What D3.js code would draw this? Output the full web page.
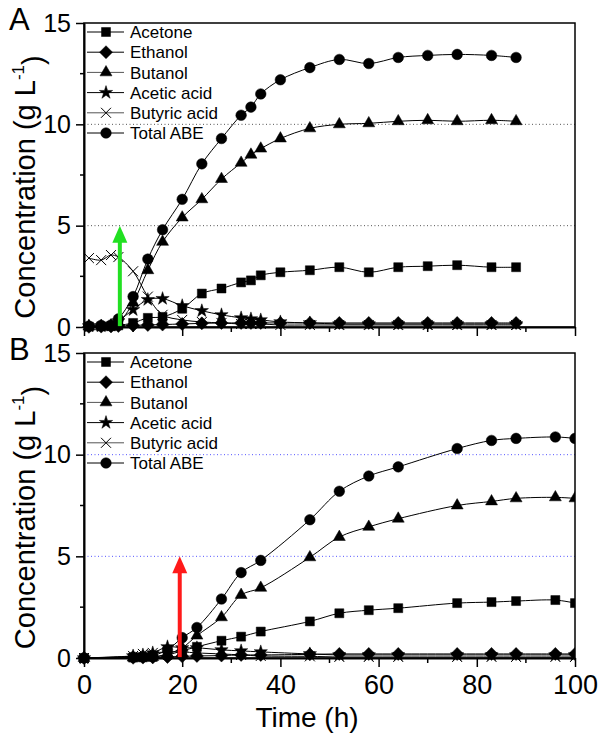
<!DOCTYPE html>
<meta charset="utf-8">
<style>
body { margin: 0; background: #fff; }
svg { font-family: "Liberation Sans", Arial, sans-serif; }
.line { fill: none; stroke: #000; stroke-width: 1px; }
</style>
<body>
<script src="https://d3js.org/d3.v7.min.js"></script>
<script>

// ---- data ----
var seriesNames = ["Acetone", "Ethanol", "Butanol", "Acetic acid", "Butyric acid", "Total ABE"];
var seriesSymbols = ["square", "diamond", "triangle", "star", "x", "circle"];

// panel A
var timeA = [1, 3.5, 5.5, 7, 10, 13, 16, 20, 24, 28, 32, 34, 36, 40, 46, 52, 58, 64, 70, 76, 83, 88];
var acetoneA = [0.02, 0.03, 0.04, 0.08, 0.2, 0.45, 0.5, 0.9, 1.65, 1.9, 2.2, 2.3, 2.55, 2.7, 2.8, 2.95, 2.7, 2.95, 3.0, 3.05, 2.95, 2.95];
var ethanolA = [0.01, 0.02, 0.03, 0.05, 0.08, 0.1, 0.12, 0.15, 0.18, 0.2, 0.2, 0.2, 0.2, 0.2, 0.2, 0.2, 0.2, 0.2, 0.2, 0.2, 0.2, 0.2];
var butanolA = [0.02, 0.03, 0.05, 0.2, 1.2, 2.8, 4.2, 5.4, 6.3, 7.3, 8.1, 8.5, 8.8, 9.3, 9.8, 10.0, 10.05, 10.15, 10.2, 10.15, 10.2, 10.15];
var aceticA = [0.05, 0.05, 0.08, 0.3, 0.85, 1.35, 1.4, 1.05, 0.8, 0.6, 0.45, 0.4, 0.35, 0.25, 0.2, 0.15, 0.15, 0.15, 0.15, 0.15, 0.15, 0.15];
var butyricA = [3.4, 3.3, 3.55, 3.45, 2.75, 1.5, 0.6, 0.35, 0.25, 0.2, 0.15, 0.15, 0.15, 0.1, 0.1, 0.1, 0.1, 0.1, 0.1, 0.1, 0.1, 0.1];
var totalA = [0.05, 0.08, 0.1, 0.4, 1.5, 3.35, 4.8, 6.3, 8.05, 9.3, 10.45, 10.85, 11.5, 12.2, 12.8, 13.2, 13.0, 13.3, 13.4, 13.45, 13.4, 13.3];

// panel B
var timeB = [0, 10, 12, 14, 17, 20, 23, 28, 32, 36, 46, 52, 58, 64, 76, 83, 88, 96, 100];
var acetoneB = [0, 0.02, 0.03, 0.05, 0.15, 0.35, 0.55, 0.85, 1.05, 1.3, 1.8, 2.2, 2.35, 2.45, 2.7, 2.75, 2.8, 2.85, 2.7];
var ethanolB = [0, 0.01, 0.02, 0.03, 0.05, 0.08, 0.1, 0.12, 0.15, 0.15, 0.18, 0.2, 0.2, 0.2, 0.2, 0.2, 0.2, 0.2, 0.2];
var butanolB = [0, 0.02, 0.03, 0.05, 0.2, 0.5, 1.1, 2.0, 3.1, 3.45, 4.95, 5.95, 6.45, 6.85, 7.5, 7.7, 7.85, 7.9, 7.85];
var aceticB = [0, 0.1, 0.15, 0.25, 0.55, 0.5, 0.5, 0.4, 0.35, 0.3, 0.2, 0.15, 0.15, 0.15, 0.15, 0.15, 0.15, 0.15, 0.15];
var butyricB = [0, 0.1, 0.2, 0.25, 0.3, 0.3, 0.25, 0.2, 0.15, 0.1, 0.08, 0.05, 0.05, 0.05, 0.05, 0.05, 0.05, 0.05, 0.05];
var totalB = [0, 0.05, 0.07, 0.12, 0.4, 1.0, 1.5, 2.9, 4.2, 4.8, 6.8, 8.2, 8.95, 9.4, 10.3, 10.7, 10.8, 10.87, 10.8];

// feeding arrows (time, from, to)
var arrowA = [7.3, 0, 5];
var arrowB = [19.5, 0, 5];

var xMajor = [0, 20, 40, 60, 80, 100];
var xMinor = [10, 30, 50, 70, 90];
var yMajor = [0, 5, 10, 15];
var yMinor = [2.5, 7.5, 12.5];
var gridValues = [5, 10];

// ---- layout ----
var width = 600, height = 736;

var svg = d3.select("body").append("svg")
    .attr("width", width)
    .attr("height", height);

var x = d3.scaleLinear().domain([0, 100]).range([84, 575]);

var panels = [
  {label: "A", top: 23, bottom: 327, time: timeA,
   values: [acetoneA, ethanolA, butanolA, aceticA, butyricA, totalA],
   grid: "#555", arrow: arrowA, arrowColor: "#22e022", showX: false},
  {label: "B", top: 353, bottom: 658, time: timeB,
   values: [acetoneB, ethanolB, butanolB, aceticB, butyricB, totalB],
   grid: "#5555ff", arrow: arrowB, arrowColor: "#ff1a1a", showX: true}
];

function markerPath(type) {
  if (type == "square") return d3.symbol(d3.symbolSquare, 81)();
  if (type == "circle") return d3.symbol(d3.symbolCircle, 88)();
  if (type == "triangle") return d3.symbol(d3.symbolTriangle, 62)();
  if (type == "star") return d3.symbol(d3.symbolStar, 55)();
  if (type == "diamond") return "M0,-6.5L6.5,0L0,6.5L-6.5,0Z";
  return "M-5,-5L5,5M-5,5L5,-5";
}

function drawMarker(sel, type) {
  sel.attr("d", markerPath(type))
    .attr("fill", type == "x" ? "none" : "#000")
    .attr("stroke", "#000")
    .attr("stroke-width", type == "x" ? 1 : 0.5);
}

svg.append("defs").append("clipPath").attr("id", "clip")
  .append("rect").attr("x", 0).attr("y", 0).attr("width", x(100)).attr("height", height);

panels.forEach(function(p) {
  var y = d3.scaleLinear().domain([0, 15]).range([p.bottom, p.top]);
  var g = svg.append("g");

  // dotted reference lines
  g.selectAll(".grid").data(gridValues).enter().append("line")
      .attr("x1", x(0)).attr("x2", x(100))
      .attr("y1", function(d) { return y(d); })
      .attr("y2", function(d) { return y(d); })
      .attr("stroke", p.grid)
      .attr("stroke-width", 1)
      .attr("stroke-dasharray", "1,2.5");

  var plot = g.append("g").attr("clip-path", "url(#clip)");

  var line = d3.line()
      .x(function(d) { return x(d[0]); })
      .y(function(d) { return y(d[1]); })
      .curve(d3.curveCatmullRom.alpha(0.5));

  p.values.forEach(function(vals, i) {
    var pts = p.time.map(function(t, j) { return [t, vals[j]]; });
    plot.append("path")
        .datum(pts)
        .attr("class", "line")
        .attr("stroke", i == 4 ? "#444" : "#000")
        .attr("d", line);
  });
  p.values.forEach(function(vals, i) {
    var pts = p.time.map(function(t, j) { return [t, vals[j]]; });
    plot.selectAll(".m" + i).data(pts).enter().append("path")
        .attr("transform", function(d) { return "translate(" + x(d[0]) + "," + y(d[1]) + ")"; })
        .call(drawMarker, seriesSymbols[i]);
  });

  // arrow
  var ax = x(p.arrow[0]), ay0 = y(p.arrow[1]), ay1 = y(p.arrow[2]);
  g.append("line")
      .attr("x1", ax).attr("x2", ax)
      .attr("y1", ay0).attr("y2", ay1 + 14)
      .attr("stroke", p.arrowColor)
      .attr("stroke-width", 4);
  g.append("path")
      .attr("d", "M" + ax + "," + ay1 + "L" + (ax + 7.5) + "," + (ay1 + 17) + "L" + (ax - 7.5) + "," + (ay1 + 17) + "Z")
      .attr("fill", p.arrowColor);

  // frame
  g.append("rect")
      .attr("x", x(0)).attr("y", p.top)
      .attr("width", x(100) - x(0)).attr("height", p.bottom - p.top)
      .attr("fill", "none").attr("stroke", "#000").attr("stroke-width", 1.5);

  // axes
  var xAxis = g.append("g")
      .attr("transform", "translate(0," + p.bottom + ")")
      .call(d3.axisBottom(x).tickValues(xMajor).tickSize(9).tickSizeOuter(0)
        .tickFormat(p.showX ? d3.format("d") : ""));
  xAxis.selectAll(".minor").data(xMinor).enter().append("line")
      .attr("x1", function(d) { return x(d); }).attr("x2", function(d) { return x(d); })
      .attr("y1", 0).attr("y2", 5).attr("stroke", "#000").attr("stroke-width", 1.5);

  var yAxis = g.append("g")
      .attr("transform", "translate(" + x(0) + ",0)")
      .call(d3.axisLeft(y).tickValues(yMajor).tickSize(8).tickSizeOuter(0).tickPadding(5));
  yAxis.selectAll(".minor").data(yMinor).enter().append("line")
      .attr("x1", 0).attr("x2", -4)
      .attr("y1", function(d) { return y(d); }).attr("y2", function(d) { return y(d); })
      .attr("stroke", "#000").attr("stroke-width", 1.5);

  [xAxis, yAxis].forEach(function(a) {
    a.select(".domain").attr("stroke-width", 2);
    a.selectAll(".tick line").attr("stroke-width", 1.5);
    a.selectAll("text").attr("fill", "#000").attr("font-family", "Liberation Sans, Arial, sans-serif");
  });
  xAxis.selectAll("text").attr("font-size", 27).attr("dy", "0.9em");
  yAxis.selectAll("text").attr("font-size", 25);

  // legend
  var leg = g.append("g");
  seriesNames.forEach(function(name, i) {
    var ly = p.top + 9 + i * 20.2;
    leg.append("line")
        .attr("x1", 87).attr("x2", 124).attr("y1", ly).attr("y2", ly)
        .attr("stroke", (i == 2 || i == 4) ? "#555" : "#000").attr("stroke-width", 1);
    leg.append("path")
        .attr("transform", "translate(106," + ly + ")")
        .call(drawMarker, seriesSymbols[i]);
    leg.append("text")
        .attr("x", 130).attr("y", ly).attr("dy", "0.36em")
        .attr("font-size", 17)
        .text(name);
  });

  // panel letter
  g.append("text")
      .attr("x", 9).attr("y", p.top + 7)
      .attr("font-size", 31)
      .text(p.label);

  // y axis title
  var yt = g.append("text")
      .attr("transform", "translate(35," + ((p.top + p.bottom) / 2 + 12) + ") rotate(-90)")
      .attr("text-anchor", "middle")
      .attr("font-size", 29);
  yt.append("tspan").text("Concentration (g L");
  yt.append("tspan").attr("dy", "-0.65em").attr("font-size", 17).text("-1");
  yt.append("tspan").attr("dy", "0.65em").text(")");
});

// x axis title
svg.append("text")
    .attr("x", 307).attr("y", 727)
    .attr("text-anchor", "middle")
    .attr("font-size", 28)
    .text("Time (h)");

</script>
</body>
